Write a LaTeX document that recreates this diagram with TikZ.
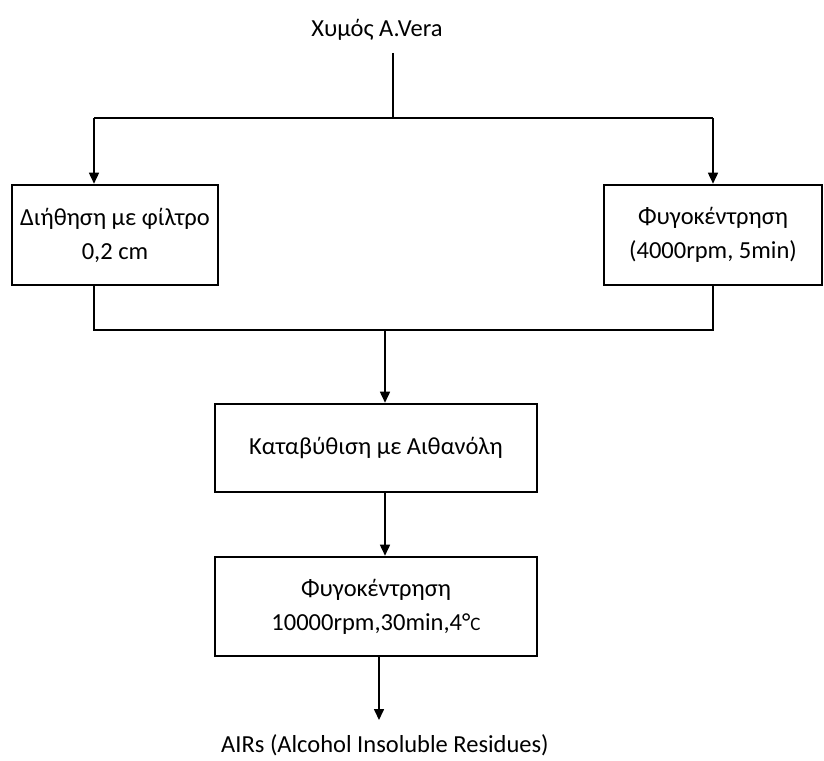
\documentclass[tikz,border=0pt]{standalone}
\usepackage{fontspec}
\setmainfont{Carlito}
\usetikzlibrary{arrows.meta}
\begin{document}
\begin{tikzpicture}[x=1pt,y=-1pt,
  box/.style={draw,line width=2.6pt,align=center,inner sep=0pt,font=\fontsize{24.5}{34}\selectfont},
  conn/.style={line width=1.6pt},
  arr/.style={conn,-{Triangle[length=11pt,width=10pt]}},
  lbl/.style={font=\fontsize{24.5}{34}\selectfont,inner sep=0pt}]
\useasboundingbox (0,0) rectangle (824,760);
\node[lbl] (src) at (377,30) {Χυμός A.Vera};
\node[box,minimum width=206pt,minimum height=100pt] (filt) at (115,235) {Διήθηση με φίλτρο\\0,2 cm};
\node[box,minimum width=218pt,minimum height=100pt] (cent1) at (713,235) {Φυγοκέντρηση\\(4000rpm, 5min)};
\node[box,minimum width=322pt,minimum height=88pt] (prec) at (376,448) {Καταβύθιση με Αιθανόλη};
\node[box,minimum width=322pt,minimum height=99pt] (cent2) at (376,606.5) {Φυγοκέντρηση\\10000rpm,30min,4°{\fontsize{19}{20}\selectfont C}};
\node[lbl] (air) at (385,745) {AIRs (Alcohol Insoluble Residues)};
\coordinate (top) at (393,53);
\coordinate (split) at (393,118);
\coordinate (sl) at (94,118);
\coordinate (sr) at (713,118);
\coordinate (jl) at (94,330);
\coordinate (jr) at (713,330);
\coordinate (jm) at (385,330);
\coordinate (end) at (379,720);
\draw[conn] (top) -- (split);
\draw[conn] (sl) -- (sr);
\draw[arr] (sl) -- (sl |- filt.north);
\draw[arr] (sr) -- (cent1.north);
\draw[conn] (filt.south -| jl) -- (jl) -- (jr) -- (cent1.south);
\draw[arr] (jm) -- (jm |- prec.north);
\draw[arr] (prec.south -| jm) -- (jm |- cent2.north);
\draw[arr] (cent2.south -| end) -- (end);
\end{tikzpicture}
\end{document}
